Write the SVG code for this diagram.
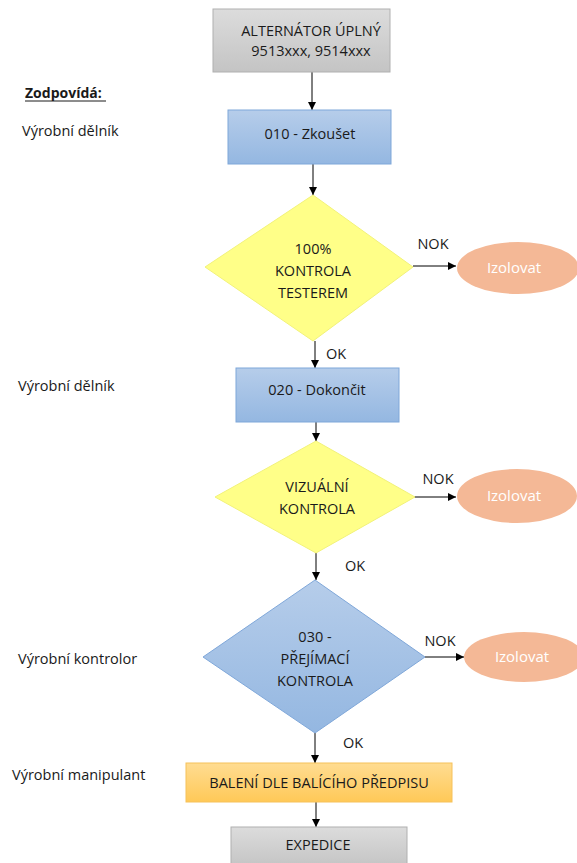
<svg xmlns="http://www.w3.org/2000/svg" width="577" height="863" viewBox="0 0 577 863">
  <style>
    text { font-family: "Open Sans", "Noto Sans", "Liberation Sans", sans-serif; font-size: 14.5px; fill: #1a1a1a; }
    .c { text-anchor: middle; dominant-baseline: central; }
    .lbl { dominant-baseline: central; }
    .w { fill: #ffffff; font-size: 15px; }
    .conn { stroke: #000; stroke-width: 1; fill: none; marker-end: url(#ah); }
    .gray { fill: url(#gGray); stroke: #b0b0b0; stroke-width: 1; }
    .blue { fill: url(#gBlue); stroke: #7fa7d9; stroke-width: 1; }
    .yel { fill: #ffff88; stroke: #f2f27a; stroke-width: 1; }
    .orng { fill: url(#gOrange); stroke: #f6c15a; stroke-width: 1; }
    .ell { fill: #f4b896; stroke: none; }
  </style>
  <defs>
    <marker id="ah" viewBox="0 0 10 10" refX="10" refY="5" markerWidth="8" markerHeight="8" markerUnits="userSpaceOnUse" orient="auto">
      <path d="M0,0 L10,5 L0,10 z" fill="#000"/>
    </marker>
    <linearGradient id="gGray" x1="0" y1="0" x2="0" y2="1">
      <stop offset="0" stop-color="#dcdcdc"/>
      <stop offset="1" stop-color="#c4c4c4"/>
    </linearGradient>
    <linearGradient id="gBlue" x1="0" y1="0" x2="0" y2="1">
      <stop offset="0" stop-color="#b6cdea"/>
      <stop offset="1" stop-color="#94b7e1"/>
    </linearGradient>
    <linearGradient id="gOrange" x1="0" y1="0" x2="0" y2="1">
      <stop offset="0" stop-color="#ffdc92"/>
      <stop offset="1" stop-color="#ffc957"/>
    </linearGradient>
  </defs>

  <rect width="577" height="863" fill="#ffffff"/>

  <!-- responsibility column -->
  <g id="roles">
    <text x="25" y="92" style="font-weight:bold; font-size:14px" class="lbl">Zodpovídá:</text>
    <line x1="25" y1="101" x2="106" y2="101" stroke="#1a1a1a" stroke-width="1"/>
    <text x="22" y="130" class="lbl">Výrobní dělník</text>
    <text x="18" y="385" class="lbl">Výrobní dělník</text>
    <text x="18" y="658" class="lbl">Výrobní kontrolor</text>
    <text x="12" y="774" class="lbl">Výrobní manipulant</text>
  </g>

  <!-- connectors -->
  <g id="connectors">
    <line class="conn" x1="312" y1="72" x2="312" y2="110"/>
    <line class="conn" x1="313" y1="164" x2="313" y2="195"/>
    <line class="conn" x1="413" y1="266" x2="456" y2="266"/>
    <line class="conn" x1="315" y1="341" x2="315" y2="368"/>
    <line class="conn" x1="316" y1="422" x2="316" y2="441"/>
    <line class="conn" x1="414" y1="497" x2="456" y2="497"/>
    <line class="conn" x1="316" y1="553" x2="316" y2="580"/>
    <line class="conn" x1="425" y1="657" x2="464" y2="657"/>
    <line class="conn" x1="315" y1="733" x2="315" y2="763"/>
    <line class="conn" x1="316" y1="802" x2="316" y2="827"/>
    <text x="433" y="243" class="lbl" text-anchor="middle">NOK</text>
    <text x="326" y="353" class="lbl">OK</text>
    <text x="438" y="478" class="lbl" text-anchor="middle">NOK</text>
    <text x="345" y="565" class="lbl">OK</text>
    <text x="440" y="640" class="lbl" text-anchor="middle">NOK</text>
    <text x="343" y="742" class="lbl">OK</text>
  </g>

  <g id="start">
    <rect class="gray" x="213" y="9" width="177" height="63"/>
    <text class="c" x="311" y="30">ALTERNÁTOR ÚPLNÝ</text>
    <text class="c" x="311" y="50">9513xxx, 9514xxx</text>
  </g>

  <g id="op010">
    <rect class="blue" x="228" y="110" width="163" height="54"/>
    <text class="c" x="310" y="133">010 - Zkoušet</text>
  </g>

  <g id="test100">
    <polygon class="yel" points="313,195 413,267 313,341 205,267"/>
    <text class="c" x="313" y="248">100%</text>
    <text class="c" x="313" y="270">KONTROLA</text>
    <text class="c" x="313" y="292">TESTEREM</text>
  </g>

  <g id="iso1">
    <ellipse class="ell" cx="518" cy="268" rx="61" ry="26"/>
    <text class="c w" x="514" y="267">Izolovat</text>
  </g>

  <g id="op020">
    <rect class="blue" x="236" y="368" width="163" height="54"/>
    <text class="c" x="317" y="389">020 - Dokončit</text>
  </g>

  <g id="visual">
    <polygon class="yel" points="316,441 415,497 316,553 215,497"/>
    <text class="c" x="317" y="486">VIZUÁLNÍ</text>
    <text class="c" x="317" y="508">KONTROLA</text>
  </g>

  <g id="iso2">
    <ellipse class="ell" cx="517" cy="496" rx="60" ry="27"/>
    <text class="c w" x="514" y="495">Izolovat</text>
  </g>

  <g id="op030">
    <polygon class="blue" points="315,580 425,657 315,733 203,657"/>
    <text class="c" x="315" y="636">030 -</text>
    <text class="c" x="315" y="658">PŘEJÍMACÍ</text>
    <text class="c" x="315" y="680">KONTROLA</text>
  </g>

  <g id="iso3">
    <ellipse class="ell" cx="524" cy="657" rx="60" ry="25"/>
    <text class="c w" x="522" y="656">Izolovat</text>
  </g>

  <g id="packing">
    <rect class="orng" x="186" y="763" width="266" height="39"/>
    <text class="c" x="319" y="782">BALENÍ DLE BALÍCÍHO PŘEDPISU</text>
  </g>

  <g id="dispatch">
    <rect class="gray" x="231" y="827" width="176" height="40"/>
    <text class="c" x="318" y="844">EXPEDICE</text>
  </g>
</svg>
